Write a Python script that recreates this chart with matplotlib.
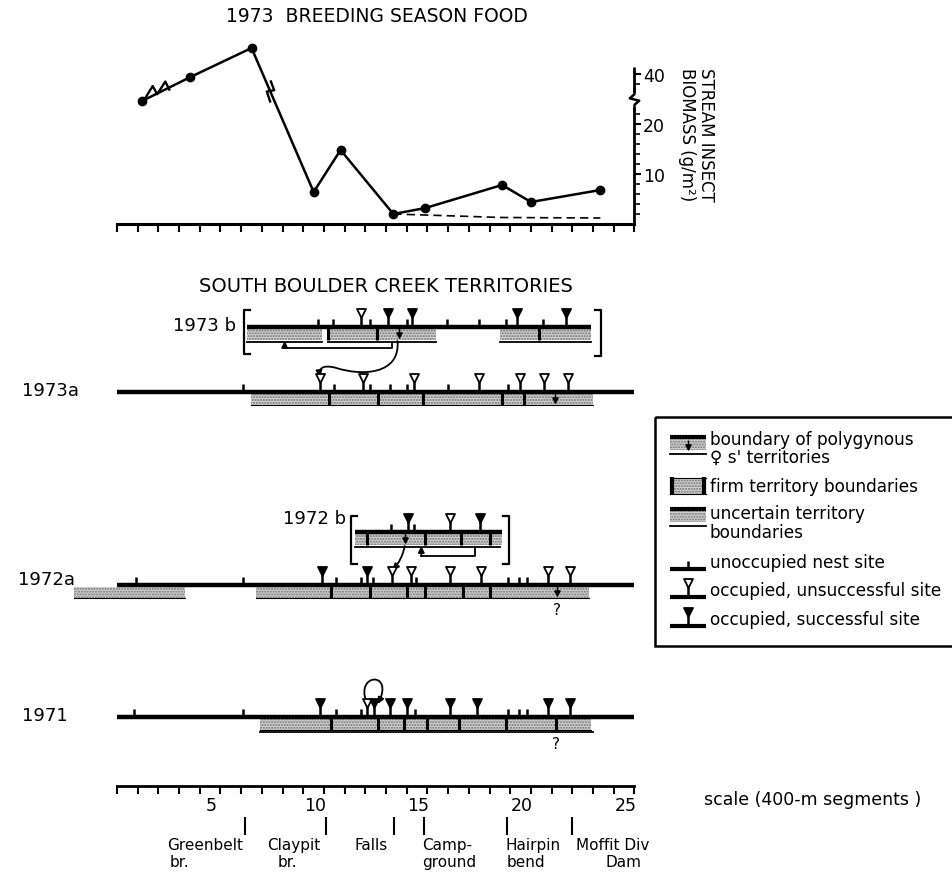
import numpy as np
import matplotlib.pyplot as plt
from matplotlib.patches import Rectangle, FancyArrowPatch
from matplotlib.path import Path
from matplotlib.transforms import ScaledTranslation

plt.rcParams['font.family'] = ['DejaVu Sans']

# --- 1973 food (stream insect biomass, g/m2) along the creek, 400-m segments
food_x = [1.2, 3.55, 6.5, 9.5, 10.8, 13.35, 14.9, 18.6, 20.0, 23.35]
food_v = [27.5, 39.4, 45.2, 6.4, 14.8, 2.0, 3.2, 7.8, 4.4, 6.8]
dash_x = [13.35, 18.6, 23.35]
dash_v = [2.0, 1.3, 1.2]
food_ticks = [10, 20, 40]
food_minor = [2, 4, 6, 8, 12, 14, 16, 18, 22, 38]

# --- territories, one set of lists per year
r73b_unocc = [9.7, 10.45, 12.2, 14.0, 15.95, 17.5, 18.8, 20.6]
r73b_open = [11.8]
r73b_succ = [13.1, 14.25, 19.3, 21.7]
r73b_spans = [(6.3, 9.9), (10.2, 15.4), (18.5, 22.9)]
r73b_firm = [10.2, 12.55, 20.4]
r73b_poly = [13.6]

r73a_unocc = [6.07, 10.5, 12.2, 13.2, 14.0, 16.0, 18.9]
r73a_open = [9.8, 11.9, 14.35, 17.5, 19.45, 20.65, 21.8]
r73a_succ = []
r73a_spans = [(6.45, 23.0)]
r73a_firm = [10.26, 12.6, 14.8, 18.6, 19.65]
r73a_poly = [21.15]

r72b_unocc = [13.25, 14.35]
r72b_open = [16.1]
r72b_succ = [14.07, 17.55]
r72b_spans = [(11.5, 18.6)]
r72b_firm = [12.06, 14.9, 16.6, 18.0]
r72b_poly = [13.9]

r72a_unocc = [0.9, 6.1, 10.6, 11.8, 12.35, 14.45, 18.9, 19.4, 19.8]
r72a_open = [13.3, 14.2, 16.1, 17.6, 20.8, 21.9]
r72a_succ = [9.9, 12.07]
r72a_spans = [(-2.1, 3.3), (6.7, 22.8)]
r72a_firm = [10.35, 12.2, 14.0, 14.9, 16.7, 18.0]
r72a_poly = [21.25]

r71_unocc = [0.8, 6.07, 10.6, 11.8, 14.4, 18.9, 19.4, 19.8]
r71_open = [12.1]
r71_succ = [9.8, 12.4, 13.2, 14.0, 16.1, 17.4, 20.8, 21.9]
r71_spans = [(6.9, 22.9)]
r71_firm = [10.35, 12.6, 13.85, 15.0, 16.5, 18.8, 21.2]
r71_poly = []

scale_labels = [5, 10, 15, 20, 25]
landmark_x = [6.2, 10.1, 13.4, 14.85, 18.85, 22.0]

W, H = 953, 879
X0, SEG = 117, 20.7


def px(p):
    return (p - X0) / SEG


fig = plt.figure(figsize=(W / 100, H / 100), dpi=100)
ax = fig.add_axes([0, 0, 1, 1])
ax.set_xlim(px(0), px(W))
ax.set_ylim(H, 0)
ax.axis('off')


# broken y scale for the food panel
def fwd(v):
    v = np.asarray(v, float)
    return np.where(v <= 24, v, np.where(v < 36, 24 + (v - 24) / 6, v - 10))


def inv(d):
    d = np.asarray(d, float)
    return np.where(d <= 24, d, np.where(d < 26, 24 + (d - 24) * 6, d + 10))


axf = fig.add_axes([X0 / W, (H - 225) / H, 25 * SEG / W, 185 / H])
axf.set_yscale('function', functions=(fwd, inv))
axf.set_xlim(0, 25)
axf.set_ylim(0, float(inv(37)))
axf.patch.set_visible(False)
for s in ['left', 'top', 'right']:
    axf.spines[s].set_visible(False)
axf.spines['bottom'].set_linewidth(2.2)
axf.set_xticks(range(26))
axf.tick_params(axis='x', direction='out', length=6, width=1.5, labelbottom=False)
axf.yaxis.tick_right()
axf.set_yticks(food_ticks)
axf.set_yticks(food_minor, minor=True)
axf.set_yticklabels([str(t) for t in food_ticks])
axf.tick_params(axis='y', which='major', direction='out', length=5, width=1.5, labelsize=12.5, pad=1)
axf.tick_params(axis='y', which='minor', direction='out', length=4, width=1.2)
axf.vlines(25, 0, 23.5, color='k', lw=2, clip_on=False)
axf.vlines(25, 36.5, 41.5, color='k', lw=2, clip_on=False)

zz = Path([(0, 1), (0, 0.45), (-0.4, 0.1), (0.4, -0.1), (0, -0.45), (0, -1)])
axf.plot([25], [30], marker=zz, ms=17, mfc='none', mec='k', mew=1.8, clip_on=False)

axf.plot(food_x, food_v, color='k', lw=1.8, marker='o', ms=6, clip_on=False)
axf.plot(dash_x, dash_v, color='k', lw=1.2, ls=(0, (5, 3)))

# break marks on the food line
bump = Path([(-1, -0.35), (-0.6, 0.3), (-0.35, -0.15), (0.1, 0.55), (0.35, 0.05)])
zed = Path([(0, 0.9), (0.3, 0.1), (-0.3, 0.0), (0, -0.9)])
dx = [fwd(v) for v in food_v]
for xb, seg, mk, size in [(2.2, 0, bump, 26), (7.4, 2, zed, 16)]:
    db = np.interp(xb, [food_x[seg], food_x[seg + 1]], [dx[seg], dx[seg + 1]])
    axf.plot([xb], [float(inv(db))], marker=mk, ms=size, mfc='none', mec='k', mew=1.7)

fig.text(377 / W, 1 - 17 / H, '1973  BREEDING SEASON FOOD', ha='center', va='center', fontsize=13.5)
fig.text(706 / W, 1 - 68 / H, 'STREAM INSECT', rotation=270, ha='center', va='top', fontsize=12)
fig.text(687 / W, 1 - 68 / H, 'BIOMASS (g/m²)', rotation=270, ha='center', va='top', fontsize=12)
fig.text(386 / W, 1 - 286 / H, 'SOUTH BOULDER CREEK TERRITORIES', ha='center', va='center', fontsize=14)

STIP = dict(facecolor='#d2d2d2', edgecolor='#6e6e6e', hatch='......', lw=0)


def row(y, x0, x1, unocc, op, succ, spans, firm, poly, under=None, box=True):
    ax.plot([x0, x1], [y, y], color='k', lw=3.2, solid_capstyle='butt', zorder=3)
    for a, b in spans:
        ax.add_patch(Rectangle((a, y + 1.5), b - a, 11, zorder=1, **STIP))
        if box:
            ax.plot([a, b], [y + 12.5, y + 12.5], color='k', lw=0.8)
    for a, b in (under or []):
        ax.plot([a, b], [y + 15, y + 15], color='k', lw=1.3)
    ax.vlines(firm, y, y + 13, color='k', lw=2.2, zorder=2)
    if poly:
        ax.vlines(poly, y + 1, y + 8, color='k', lw=1)
        ax.scatter(poly, [y + 8] * len(poly), marker='v', s=14, color='k', zorder=4)
    ax.vlines(unocc, y - 8, y, color='k', lw=1.8)
    ax.vlines(op + succ, y - 11, y, color='k', lw=1.8)
    ax.scatter(op, [y - 14] * len(op), marker='v', s=42, facecolor='white', edgecolor='k', lw=1.3, zorder=4)
    ax.scatter(succ, [y - 14] * len(succ), marker='v', s=42, facecolor='k', edgecolor='k', lw=1.3, zorder=4)


Y73B, Y73A, Y72B, Y72A, Y71 = 328, 393, 533, 586, 718
row(Y73B, 6.3, 22.9, r73b_unocc, r73b_open, r73b_succ, r73b_spans, r73b_firm, r73b_poly,
    under=r73b_spans, box=False)
row(Y73A, 0, 25, r73a_unocc, r73a_open, r73a_succ, r73a_spans, r73a_firm, r73a_poly)
row(Y72B, 11.5, 18.6, r72b_unocc, r72b_open, r72b_succ, r72b_spans, r72b_firm, r72b_poly,
    under=[(11.5, 18.5)], box=False)
row(Y72A, 0, 25, r72a_unocc, r72a_open, r72a_succ, r72a_spans, r72a_firm, r72a_poly)
row(Y71, 0, 25, r71_unocc, r71_open, r71_succ, r71_spans, r71_firm, r71_poly,
    under=[(6.9, 23.0)])

ax.text(r72a_poly[0], Y72A + 25, '?', ha='center', va='center', fontsize=11)
ax.text(r71_firm[-1], Y71 + 27, '?', ha='center', va='center', fontsize=11)


def bracket(x, y0, y1, d):
    ax.plot([x + d, x, x, x + d], [y0, y0, y1, y1], color='k', lw=1.6)


bracket(px(244), 311, 355, 0.3)
bracket(px(601), 311, 357, -0.3)
bracket(px(351), 517, 565, 0.3)
bracket(px(509), 517, 565, -0.3)

ax.text(px(236), Y73B - 2, '1973 b', ha='right', va='center', fontsize=13)
ax.text(px(22), Y73A - 2, '1973a', ha='left', va='center', fontsize=13)
ax.text(px(346), Y72B - 14, '1972 b', ha='right', va='center', fontsize=13)
ax.text(px(18), Y72A - 6, '1972a', ha='left', va='center', fontsize=13)
ax.text(px(22), Y71 - 2, '1971', ha='left', va='center', fontsize=13)

AR = dict(arrowstyle='-|>', color='k', lw=1.3, mutation_scale=9, shrinkA=0, shrinkB=0)


def l_arrow(y0, y1, xa, xb):
    ax.plot([xa, xa, xb], [y0, y1, y1], color='k', lw=1.3)
    ax.annotate('', xy=(xb, y0 - 1), xytext=(xb, y1), arrowprops=AR)


l_arrow(Y73B + 15, Y73B + 21, 13.3, 8.1)
l_arrow(Y72B + 15, Y72B + 24, 17.3, 14.7)


def curve(verts):
    codes = [Path.MOVETO] + [Path.CURVE4] * (len(verts) - 1)
    ax.add_patch(FancyArrowPatch(path=Path(verts, codes), arrowstyle='-|>', color='k',
                                 lw=1.3, mutation_scale=9, transform=ax.transData))


curve([(13.55, 342), (13.7, 376), (11.8, 377), (10.6, 369),
       (9.9, 365), (9.75, 370), (9.8, 378)])
curve([(12.05, 703), (11.5, 674), (13.4, 672), (12.6, 705)])
ax.annotate('', xy=(13.3, 571), xytext=(13.9, 547),
            arrowprops=dict(AR, connectionstyle='arc3,rad=-0.15'))

# legend box
ax.add_patch(Rectangle((px(655), 418), px(W + 10) - px(655), 229, fill=False, lw=1.8, ec='k'))
lx0, lx1, lxm = px(670), px(706), px(688)
ax.plot([lx0, lx1], [438, 438], color='k', lw=3, solid_capstyle='butt')
ax.add_patch(Rectangle((lx0, 440), lx1 - lx0, 11, **STIP))
ax.plot([lx0, lx1], [455, 455], color='k', lw=1.3)
ax.vlines([lxm], 441, 448, color='k', lw=1)
ax.scatter([lxm], [448], marker='v', s=14, color='k', zorder=4)

ax.add_patch(Rectangle((lx0, 479), lx1 - lx0, 16, **STIP))
ax.plot([lx0, lx1], [479, 479], color='k', lw=0.8)
ax.plot([lx0, lx1], [495, 495], color='k', lw=0.8)
ax.vlines([lx0 + 0.1, lx1 - 0.1], 478, 496, color='k', lw=3)

ax.plot([lx0, lx1], [510, 510], color='k', lw=3, solid_capstyle='butt')
ax.add_patch(Rectangle((lx0, 512), lx1 - lx0, 11, **STIP))
ax.plot([lx0, lx1], [527, 527], color='k', lw=1.3)

for yl, kind in [(570, 'u'), (598, 'o'), (627, 's')]:
    ax.plot([lx0, lx1], [yl, yl], color='k', lw=3, solid_capstyle='butt')
    if kind == 'u':
        ax.vlines([lxm], yl - 8, yl, color='k', lw=1.8)
    else:
        ax.vlines([lxm], yl - 11, yl, color='k', lw=1.8)
        ax.scatter([lxm], [yl - 14], marker='v', s=42, lw=1.3, edgecolor='k',
                   facecolor='white' if kind == 'o' else 'k', zorder=4)

leg_text = [('boundary of polygynous', 440), ('♀ s\' territories', 458),
            ('firm territory boundaries', 487), ('uncertain territory', 514),
            ('boundaries', 533), ('unoccupied nest site', 563),
            ('occupied, unsuccessful site', 591), ('occupied, successful site', 620)]
for t, yt in leg_text:
    ax.text(px(710), yt, t, ha='left', va='center', fontsize=12.2)

# distance scale
axs = fig.add_axes([X0 / W, (H - 787) / H, 25 * SEG / W, 0.001])
axs.set_xlim(0, 25)
axs.set_ylim(0, 1)
axs.patch.set_visible(False)
for s in ['left', 'top', 'right']:
    axs.spines[s].set_visible(False)
axs.spines['bottom'].set_linewidth(2)
axs.set_yticks([])
axs.set_xticks(range(26))
axs.tick_params(axis='x', direction='out', length=6, width=1.5, labelbottom=False)
off = axs.get_xaxis_transform() + ScaledTranslation(-0.09, -0.1, fig.dpi_scale_trans)
for k in scale_labels:
    axs.text(k, 0, str(k), transform=off, ha='center', va='top', fontsize=12.5)

fig.text(704 / W, 1 - 800 / H, 'scale (400-m segments )', ha='left', va='center', fontsize=12.5)

ax.vlines(landmark_x, 818, 836, color='k', lw=1.5)
lm_text = [('Greenbelt', 167, 846), ('br.', 170, 863), ('Claypit', 267, 846), ('br.', 278, 863),
           ('Falls', 354, 846), ('Camp-', 422, 846), ('ground', 422, 863),
           ('Hairpin', 506, 846), ('bend', 507, 863), ('Moffit Div', 576, 846), ('Dam', 606, 863)]
for t, xt, yt in lm_text:
    ax.text(px(xt), yt, t, ha='left', va='center', fontsize=11)

fig.savefig('out.png', dpi=100)
